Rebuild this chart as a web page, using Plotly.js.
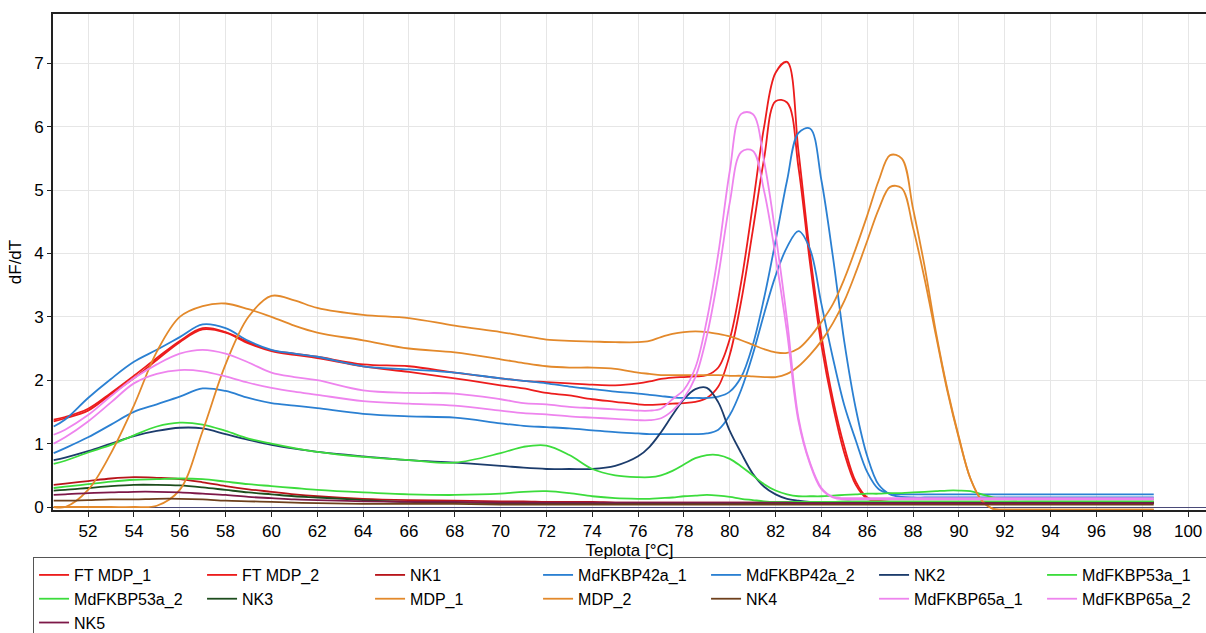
<!DOCTYPE html>
<html>
<head>
<meta charset="utf-8">
<script src="https://cdn.plot.ly/plotly-3.0.1.min.js"></script>
<style>
html,body{margin:0;padding:0;background:#fff;}
#chart{width:1206px;height:633px;}
</style>
</head>
<body>
<div id="chart"></div>
<script>
// Temperature grid (°C)
const temps = [50.5,51,52,53,54,55,56,57,58,59,60,61,62,
  64,66,68,70,71,72,73,74,75,76,
  76.5,77,77.5,78,78.5,79,79.5,80,80.5,81,81.5,82,82.5,83,83.5,84,84.5,85,85.5,86,86.5,87,87.5,88,88.5,89,89.5,90,90.5,91,91.5,92,
  93,94,96,98,98.5];

const seriesNames = ["FT MDP_1","FT MDP_2","NK1","MdFKBP42a_1","MdFKBP42a_2","NK2","MdFKBP53a_1","MdFKBP53a_2","NK3","MDP_1","MDP_2","NK4","MdFKBP65a_1","MdFKBP65a_2","NK5"];

const ftMdp1 = [1.38,1.42,1.55,1.8,2.07,2.35,2.62,2.82,2.76,2.6,2.47,2.42,2.37,
  2.25,2.22,2.12,2.03,1.99,1.97,1.95,1.93,1.92,1.95,
  1.98,2.02,2.04,2.05,2.06,2.08,2.2,2.65,3.55,4.75,6.0,6.85,7.02,5.6,4.0,2.7,1.7,0.95,0.4,0.15,0.1,0.08,0.08,0.08,0.08,0.08,0.08,0.08,0.08,0.08,0.08,0.08,
  0.08,0.08,0.08,0.08,0.08];
const ftMdp2 = [1.35,1.4,1.52,1.78,2.03,2.32,2.6,2.8,2.75,2.58,2.46,2.4,2.35,
  2.22,2.13,2.03,1.92,1.87,1.8,1.76,1.7,1.66,1.62,
  1.61,1.62,1.63,1.64,1.66,1.72,1.9,2.4,3.25,4.35,5.5,6.4,6.38,5.35,3.85,2.55,1.6,0.85,0.35,0.13,0.09,0.08,0.08,0.08,0.08,0.08,0.08,0.07,0.07,0.07,0.07,0.07,
  0.07,0.07,0.07,0.07,0.07];
const nk1 = [0.35,0.37,0.41,0.45,0.47,0.46,0.44,0.39,0.33,0.28,0.24,0.2,0.17,
  0.13,0.11,0.1,0.09,0.09,0.08,0.08,0.08,0.07,0.07,
  0.07,0.07,0.07,0.07,0.07,0.07,0.07,0.07,0.07,0.07,0.07,0.07,0.07,0.07,0.07,0.06,0.06,0.06,0.06,0.06,0.06,0.06,0.06,0.06,0.06,0.06,0.06,0.06,0.06,0.06,0.06,0.06,
  0.06,0.06,0.06,0.06,0.06];
const fkbp42a1 = [1.27,1.38,1.72,2.02,2.29,2.48,2.68,2.88,2.82,2.62,2.48,2.42,2.37,
  2.22,2.17,2.12,2.03,1.99,1.95,1.9,1.86,1.82,1.79,
  1.77,1.75,1.73,1.72,1.72,1.72,1.74,1.82,2.05,2.55,3.3,4.2,5.15,5.9,5.97,5.15,3.95,2.6,1.55,0.8,0.35,0.2,0.16,0.15,0.15,0.15,0.15,0.15,0.15,0.15,0.15,0.15,
  0.15,0.15,0.15,0.15,0.15];
const fkbp42a2 = [0.85,0.93,1.1,1.3,1.5,1.62,1.74,1.87,1.83,1.72,1.64,1.6,1.56,
  1.47,1.43,1.41,1.32,1.28,1.26,1.24,1.21,1.18,1.16,
  1.15,1.15,1.15,1.15,1.15,1.16,1.22,1.45,1.85,2.4,3.05,3.65,4.1,4.35,4.07,3.2,2.35,1.6,1.05,0.55,0.28,0.21,0.2,0.2,0.2,0.2,0.2,0.2,0.2,0.2,0.2,0.2,
  0.2,0.2,0.2,0.2,0.2];
const nk2 = [0.74,0.78,0.88,1.0,1.12,1.2,1.25,1.24,1.15,1.06,0.98,0.92,0.87,
  0.8,0.74,0.7,0.65,0.62,0.6,0.6,0.6,0.65,0.8,
  0.95,1.18,1.45,1.7,1.86,1.88,1.65,1.2,0.85,0.53,0.32,0.2,0.13,0.1,0.08,0.07,0.07,0.07,0.07,0.07,0.07,0.07,0.07,0.07,0.07,0.07,0.07,0.07,0.07,0.07,0.07,0.07,
  0.07,0.07,0.07,0.07,0.07];
const fkbp53a1 = [0.68,0.73,0.86,0.98,1.13,1.27,1.33,1.3,1.2,1.08,1.0,0.93,0.87,
  0.79,0.74,0.7,0.85,0.95,0.97,0.82,0.6,0.5,0.47,
  0.47,0.5,0.57,0.67,0.77,0.82,0.82,0.76,0.64,0.5,0.36,0.26,0.2,0.17,0.17,0.17,0.18,0.19,0.2,0.21,0.21,0.22,0.22,0.23,0.24,0.25,0.26,0.26,0.25,0.2,0.15,0.13,
  0.12,0.12,0.12,0.12,0.12];
const fkbp53a2 = [0.3,0.32,0.36,0.4,0.43,0.44,0.45,0.44,0.4,0.36,0.33,0.3,0.27,
  0.23,0.2,0.19,0.21,0.24,0.25,0.22,0.17,0.14,0.13,
  0.13,0.14,0.15,0.17,0.18,0.19,0.18,0.16,0.13,0.11,0.09,0.08,0.08,0.08,0.08,0.08,0.08,0.09,0.09,0.09,0.09,0.09,0.09,0.09,0.09,0.09,0.09,0.09,0.09,0.09,0.09,0.09,
  0.09,0.09,0.09,0.09,0.09];
const nk3 = [0.26,0.27,0.3,0.33,0.35,0.35,0.34,0.31,0.27,0.23,0.2,0.17,0.15,
  0.11,0.08,0.07,0.06,0.06,0.06,0.06,0.06,0.06,0.06,
  0.06,0.06,0.06,0.06,0.06,0.06,0.06,0.06,0.06,0.06,0.06,0.06,0.06,0.06,0.06,0.06,0.06,0.06,0.06,0.06,0.06,0.06,0.06,0.06,0.06,0.06,0.06,0.06,0.06,0.06,0.06,0.06,
  0.06,0.06,0.06,0.06,0.06];
const mdp1 = [0.0,0.0,0.27,0.85,1.6,2.45,3.0,3.17,3.21,3.12,3.0,2.86,2.75,
  2.63,2.5,2.44,2.33,2.27,2.22,2.2,2.2,2.18,2.12,
  2.1,2.08,2.08,2.08,2.08,2.08,2.08,2.07,2.07,2.06,2.05,2.05,2.1,2.22,2.4,2.62,2.9,3.25,3.7,4.2,4.7,5.05,5.03,4.4,3.6,2.7,1.82,1.08,0.45,0.1,-0.03,-0.04,
  -0.04,-0.04,-0.04,-0.04,-0.04];
const mdp2 = [0.0,0.0,0.0,0.0,0.0,0.02,0.27,1.2,2.25,3.0,3.33,3.26,3.14,
  3.03,2.98,2.86,2.76,2.7,2.64,2.62,2.61,2.6,2.6,
  2.62,2.68,2.73,2.76,2.77,2.76,2.73,2.69,2.63,2.56,2.49,2.44,2.43,2.5,2.68,2.92,3.2,3.6,4.08,4.6,5.15,5.55,5.5,4.7,3.8,2.75,1.85,1.1,0.45,0.1,-0.03,-0.04,
  -0.04,-0.04,-0.04,-0.04,-0.04];
const nk4 = [0.1,0.1,0.11,0.12,0.12,0.13,0.13,0.12,0.1,0.09,0.08,0.07,0.06,
  0.05,0.05,0.05,0.04,0.04,0.04,0.04,0.04,0.04,0.04,
  0.04,0.04,0.04,0.04,0.04,0.04,0.04,0.04,0.04,0.04,0.04,0.04,0.04,0.04,0.04,0.04,0.04,0.04,0.04,0.04,0.04,0.04,0.04,0.04,0.04,0.04,0.04,0.04,0.04,0.04,0.04,0.04,
  0.04,0.04,0.04,0.04,0.04];
const fkbp65a1 = [1.14,1.22,1.45,1.75,2.03,2.25,2.42,2.48,2.42,2.28,2.12,2.05,2.0,
  1.84,1.8,1.79,1.7,1.64,1.62,1.58,1.56,1.54,1.52,
  1.52,1.55,1.7,1.85,2.2,2.95,4.0,5.3,6.2,6.2,5.45,4.3,2.95,1.4,0.7,0.3,0.16,0.14,0.14,0.14,0.14,0.14,0.14,0.14,0.14,0.14,0.14,0.14,0.14,0.14,0.14,0.14,
  0.14,0.14,0.14,0.14,0.14];
const fkbp65a2 = [1.0,1.1,1.35,1.65,1.95,2.1,2.16,2.14,2.06,1.96,1.88,1.82,1.77,
  1.67,1.63,1.6,1.52,1.48,1.46,1.43,1.41,1.39,1.37,
  1.37,1.4,1.52,1.72,2.05,2.7,3.65,4.8,5.6,5.62,4.98,3.95,2.75,1.35,0.68,0.28,0.15,0.12,0.12,0.12,0.12,0.12,0.12,0.12,0.12,0.12,0.12,0.12,0.12,0.12,0.12,0.12,
  0.12,0.12,0.12,0.12,0.12];
const nk5 = [0.19,0.2,0.22,0.23,0.24,0.24,0.23,0.21,0.19,0.16,0.14,0.12,0.11,
  0.09,0.08,0.08,0.07,0.07,0.07,0.07,0.07,0.07,0.07,
  0.07,0.07,0.07,0.07,0.07,0.07,0.07,0.07,0.07,0.07,0.07,0.07,0.07,0.06,0.06,0.06,0.06,0.06,0.06,0.06,0.06,0.06,0.06,0.06,0.06,0.06,0.06,0.06,0.06,0.06,0.06,0.06,
  0.06,0.06,0.06,0.06,0.06];

const seriesValues = [ftMdp1,ftMdp2,nk1,fkbp42a1,fkbp42a2,nk2,fkbp53a1,fkbp53a2,nk3,mdp1,mdp2,nk4,fkbp65a1,fkbp65a2,nk5];
const seriesColors = ["#ec1c1c","#ec1c1c","#b8141a","#2b80d2","#2b80d2","#1c3c6c","#3cdc3c","#3cdc3c","#1d4d1d","#e3892b","#e3892b","#6e401c","#ee84ee","#ee84ee","#7d1848"];

const FONT = "Liberation Sans, Arial, Helvetica, sans-serif";

const traces = seriesNames.map((name, i) => ({
  type: "scatter",
  mode: "lines",
  name: name,
  x: temps,
  y: seriesValues[i],
  line: {color: seriesColors[i], width: 1.8, shape: "spline", smoothing: 1},
  hoverinfo: "x+y+name"
}));

const layout = {
  width: 1206,
  height: 633,
  margin: {l: 53, r: 0, t: 14, b: 123, autoexpand: false},
  paper_bgcolor: "#ffffff",
  plot_bgcolor: "#ffffff",
  font: {family: FONT, size: 17, color: "#000"},
  showlegend: true,
  legend: {
    orientation: "h",
    x: -0.0173, xanchor: "left",
    y: -0.0948, yanchor: "top",
    bordercolor: "#555", borderwidth: 1,
    bgcolor: "#fff",
    font: {family: FONT, size: 16, color: "#000"},
    entrywidth: 123, entrywidthmode: "pixels",
    traceorder: "normal"
  },
  xaxis: {
    range: [50.47, 100.78],
    tickmode: "linear", tick0: 52, dtick: 2,
    showgrid: true, gridcolor: "#e6e6e6", gridwidth: 1,
    zeroline: false,
    showline: true, linecolor: "#222", linewidth: 2, mirror: true,
    ticks: "outside", ticklen: 5, tickcolor: "#222",
    tickfont: {family: FONT, size: 17, color: "#000"},
    title: {text: "Teplota [°C]", font: {family: FONT, size: 17, color: "#000"}, standoff: 3}
  },
  yaxis: {
    range: [-0.047, 7.776],
    tickmode: "linear", tick0: 0, dtick: 1,
    showgrid: true, gridcolor: "#e6e6e6", gridwidth: 1,
    zeroline: true, zerolinecolor: "#4a4a78", zerolinewidth: 1,
    showline: true, linecolor: "#222", linewidth: 2, mirror: false,
    ticks: "outside", ticklen: 4, tickcolor: "#222",
    tickfont: {family: FONT, size: 17, color: "#000"},
    title: {text: "dF/dT", font: {family: FONT, size: 17, color: "#000"}, standoff: 8}
  }
};

Plotly.newPlot("chart", traces, layout, {displayModeBar: false, staticPlot: true});
</script>
</body>
</html>
